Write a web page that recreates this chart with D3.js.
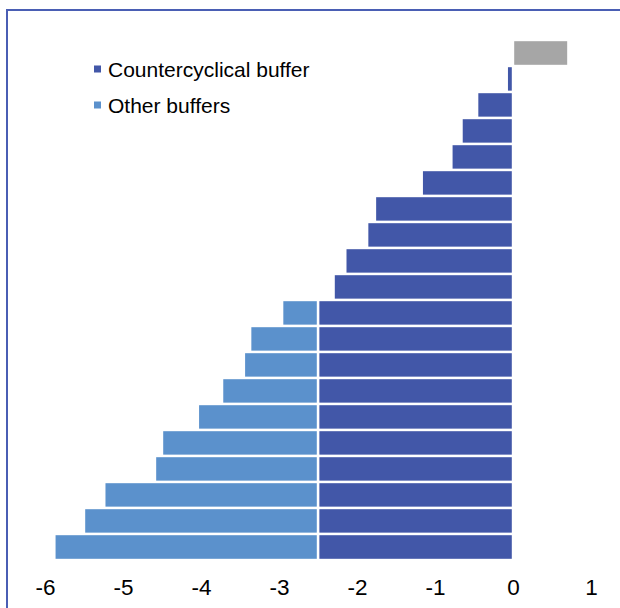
<!DOCTYPE html>
<html>
<head>
<meta charset="utf-8">
<script src="https://cdn.jsdelivr.net/npm/d3@7"></script>
<style>
  html, body { margin: 0; padding: 0; background: #fff; }
  svg { display: block; }
  text { font-family: "Liberation Sans", Arial, sans-serif; fill: #000; }
</style>
</head>
<body>
<svg id="chart" width="620" height="608"></svg>
<script>
// Rows from top to bottom (unlabelled on the chart)
const rows = [1, 2, 3, 4, 5, 6, 7, 8, 9, 10, 11, 12, 13, 14, 15, 16, 17, 18, 19, 20];
// Countercyclical buffer contribution (percentage points)
const counterValues = [0, -0.08, -0.46, -0.66, -0.79, -1.17, -1.77, -1.87, -2.15, -2.3,
                       -2.5, -2.5, -2.5, -2.5, -2.5, -2.5, -2.5, -2.5, -2.5, -2.5];
// Other buffers contribution, stacked beyond the countercyclical part
const otherValues = [0, 0, 0, 0, 0, 0, 0, 0, 0, 0,
                     -0.46, -0.87, -0.95, -1.23, -1.54, -2.0, -2.09, -2.74, -3.0, -3.38];
// Positive remainder shown in grey
const positiveValues = [0.71, 0, 0, 0, 0, 0, 0, 0, 0, 0,
                        0, 0, 0, 0, 0, 0, 0, 0, 0, 0];
const xTicks = [-6, -5, -4, -3, -2, -1, 0, 1];
const seriesNames = ["Countercyclical buffer", "Other buffers"];

const colors = { counter: "#4257a8", other: "#5b91cc", positive: "#a6a6a6" };

const svg = d3.select("#chart");

// Frame around the chart area
svg.append("path")
  .attr("d", "M7,608 V10 H620")
  .attr("fill", "none")
  .attr("stroke", "#4a5eb4")
  .attr("stroke-width", 2);

const x = d3.scaleLinear().domain([-6, 1]).range([45, 591]);
const y = d3.scaleBand().domain(rows).range([40, 560]).paddingInner(0).paddingOuter(0);

const segments = [];
rows.forEach((r, i) => {
  if (counterValues[i] !== 0) segments.push({ row: r, x0: counterValues[i], x1: 0, color: colors.counter });
  if (otherValues[i] !== 0) segments.push({ row: r, x0: counterValues[i] + otherValues[i], x1: counterValues[i], color: colors.other });
  if (positiveValues[i] !== 0) segments.push({ row: r, x0: 0, x1: positiveValues[i], color: colors.positive });
});

svg.append("g")
  .selectAll("rect")
  .data(segments)
  .join("rect")
  .attr("x", d => x(d.x0))
  .attr("width", d => x(d.x1) - x(d.x0))
  .attr("y", d => y(d.row))
  .attr("height", y.bandwidth())
  .attr("fill", d => d.color)
  .attr("stroke", "#fff")
  .attr("stroke-width", 2.4);

// Bottom value axis: labels only
const axis = svg.append("g")
  .attr("transform", "translate(0,575)")
  .call(d3.axisBottom(x).tickValues(xTicks).tickSize(0).tickPadding(0).tickFormat(d3.format("d")));
axis.select(".domain").remove();
axis.selectAll("text")
  .attr("dy", "0")
  .attr("y", 20)
  .attr("font-size", null)
  .style("font-size", "22.5px")
  .style("font-family", "'Liberation Sans', Arial, sans-serif")
  .attr("fill", "#000")
  .text(d => (d < 0 ? "-" + Math.abs(d) : String(d)));

// Legend
const legend = svg.append("g");
const legendColors = [colors.counter, colors.other];
seriesNames.forEach((name, i) => {
  const cy = 69 + i * 36;
  legend.append("rect")
    .attr("x", 94).attr("y", cy - 3.5)
    .attr("width", 7).attr("height", 7)
    .attr("fill", legendColors[i]);
  legend.append("text")
    .attr("x", 108).attr("y", cy + 7.5)
    .style("font-size", "21px")
    .text(name);
});
</script>
</body>
</html>
